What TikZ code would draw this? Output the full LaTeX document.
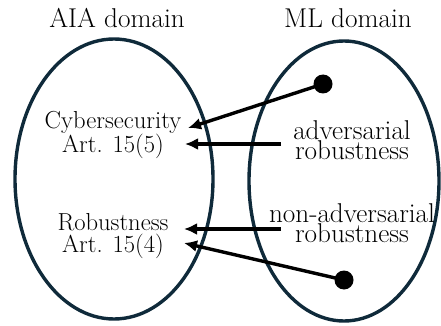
\documentclass[tikz,border=0pt]{standalone}
\usetikzlibrary{arrows.meta}
\definecolor{rim}{HTML}{0F2A3A}
\tikzset{
  domainrim/.style={draw=rim, line width=3.4pt},
  lbl/.style={inner sep=0pt, align=center, font=\fontsize{24.6}{22.5}\selectfont},
  mllbl/.style={inner sep=0pt, align=center, font=\fontsize{27.2}{20.5}\selectfont},
  titlelbl/.style={inner sep=0pt, font=\fontsize{27.2}{28}\selectfont},
  link/.style={line width=3.4pt, -{Latex[length=13pt,width=12pt]}},
  blob/.style={circle, fill=black, inner sep=0pt, minimum size=19pt}
}
\begin{document}
\begin{tikzpicture}[x=1pt,y=-1pt]
  \useasboundingbox (0,0) rectangle (441,326);
  % the two domains
  \draw[domainrim] (114,179) ellipse [x radius=99, y radius=140];
  \draw[domainrim] (344,181) ellipse [x radius=95, y radius=140];
  \node[titlelbl] (aia) at (117,18) {AIA domain};
  \node[titlelbl] (ml) at (348,18) {ML domain};
  % AIA concepts
  \node[lbl] (cyber) at (113,135) {Cybersecurity\\Art. 15(5)};
  \node[lbl] (robust) at (113,236) {Robustness\\Art. 15(4)};
  % ML concepts
  \node[mllbl] (adv) at (352,140) {adversarial\\robustness};
  \node[mllbl] (nonadv) at (352,223) {non-adversarial\\robustness};
  \node[blob] (d1) at (323,84) {};
  \node[blob] (d2) at (344,280) {};
  \coordinate (c1) at (188,128);
  \coordinate (c2) at (185,144);
  \coordinate (r1) at (184,229);
  \coordinate (r2) at (184,243);
  \coordinate (a1) at (281,144);
  \coordinate (n1) at (281,229);
  % mappings
  \draw[link] (d1.center) -- (c1);
  \draw[link] (a1) -- (c2);
  \draw[link] (n1) -- (r1);
  \draw[link] (d2.center) -- (r2);
\end{tikzpicture}
\end{document}
